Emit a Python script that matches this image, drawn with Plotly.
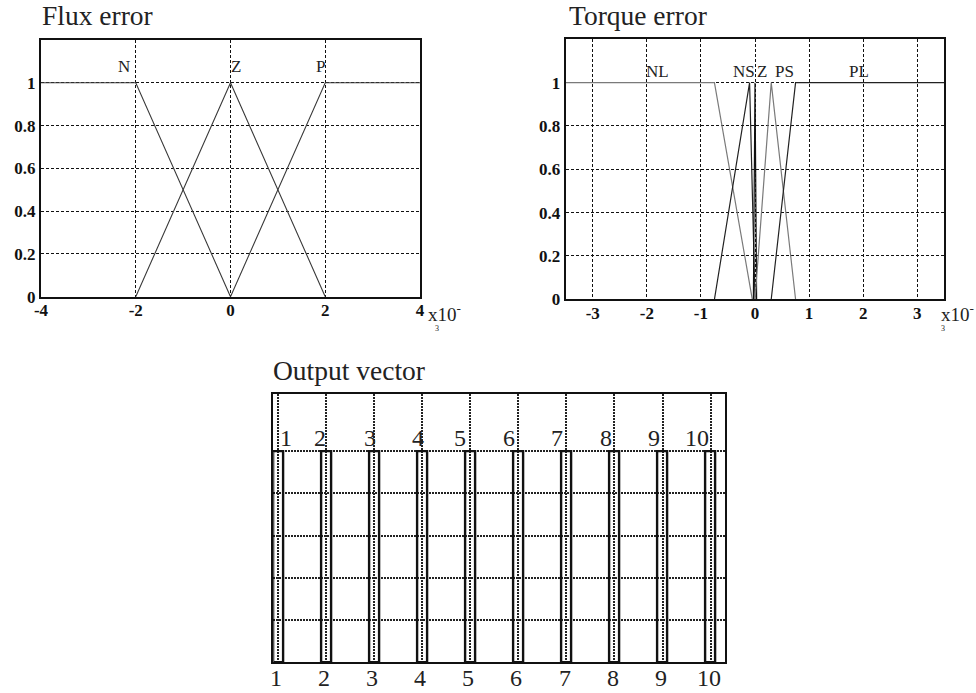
import plotly.graph_objects as go

W, H = 976, 693

# ---- Flux error membership functions (x in units of 1e-3) ----
flux_N_x = [-4, -2, 0]
flux_N_mu = [1, 1, 0]
flux_Z_x = [-2, 0, 2]
flux_Z_mu = [0, 1, 0]
flux_P_x = [0, 2, 4]
flux_P_mu = [0, 1, 1]
flux_names = ["N", "Z", "P"]
flux_name_x = [-2.25, 0.12, 1.91]
flux_xticks = [-4, -2, 0, 2, 4]
flux_xticktext = ["-4", "-2", "0", "2", "4"]

# ---- Torque error membership functions (x in units of 1e-3) ----
torque_NL_x = [-3.5, -0.75, -0.05]
torque_NL_mu = [1, 1, 0]
torque_NS_x = [-0.75, -0.1, 0]
torque_NS_mu = [0, 1, 0]
torque_Z_x = [-0.03, 0, 0.03]
torque_Z_mu = [0, 1, 0]
torque_PS_x = [0, 0.3, 0.75]
torque_PS_mu = [0, 1, 0]
torque_PL_x = [0.3, 0.75, 3.5]
torque_PL_mu = [0, 1, 1]
torque_names = ["NL", "NS", "Z", "PS", "PL"]
torque_name_x = [-1.8, -0.2, 0.13, 0.54, 1.92]
torque_xticks = [-3, -2, -1, 0, 1, 2, 3]
torque_xticktext = ["-3", "-2", "-1", "0", "1", "2", "3"]

# ---- Output voltage vector singletons ----
output_vectors = [1, 2, 3, 4, 5, 6, 7, 8, 9, 10]
output_mu = [1, 1, 1, 1, 1, 1, 1, 1, 1, 1]
output_name_x = [1.16, 1.88, 2.91, 3.91, 4.78, 5.8, 6.8, 7.83, 8.83, 9.72]

mu_ticks = [0, 0.2, 0.4, 0.6, 0.8, 1]
mu_ticktext = ["0", "0.2", "0.4", "0.6", "0.8", "1"]

SERIF = "Liberation Serif"


def px_x(p):
    return p / W


def px_y(p):
    return 1 - p / H


fig = go.Figure()

# flux error curves
for xs, ys in [(flux_N_x, flux_N_mu), (flux_Z_x, flux_Z_mu), (flux_P_x, flux_P_mu)]:
    fig.add_trace(go.Scatter(x=xs, y=ys, mode="lines",
                             line=dict(color="#3a3a3a", width=1.1),
                             xaxis="x", yaxis="y", showlegend=False, hoverinfo="skip"))

# torque error curves
torque_sets = [
    (torque_NL_x, torque_NL_mu, "#7a7a7a"),
    (torque_NS_x, torque_NS_mu, "#222222"),
    (torque_Z_x, torque_Z_mu, "#111111"),
    (torque_PS_x, torque_PS_mu, "#7a7a7a"),
    (torque_PL_x, torque_PL_mu, "#222222"),
]
for xs, ys, c in torque_sets:
    fig.add_trace(go.Scatter(x=xs, y=ys, mode="lines",
                             line=dict(color=c, width=1.2),
                             xaxis="x2", yaxis="y2", showlegend=False, hoverinfo="skip"))

# output vector singletons
fig.add_trace(go.Bar(x=output_vectors, y=output_mu, width=0.2,
                     marker=dict(color="rgba(0,0,0,0)", line=dict(color="#111111", width=2.4)),
                     xaxis="x3", yaxis="y3", showlegend=False, hoverinfo="skip"))

grid = dict(showgrid=True, gridcolor="#111111", gridwidth=1, griddash="3px,2px",
            zeroline=False, showline=True, linecolor="#111111", linewidth=2,
            mirror=True, ticks="", automargin=False)
tickfont_b = dict(family=SERIF, size=17, color="#111111", weight="bold")
dotgrid = {**grid, "griddash": "2px,1px", "gridwidth": 2, "gridcolor": "#222222"}

fig.update_layout(
    width=W, height=H,
    margin=dict(l=0, r=0, t=0, b=0),
    paper_bgcolor="white", plot_bgcolor="white",
    bargap=0,
    xaxis=dict(domain=[px_x(41), px_x(420)], range=[-4, 4], tickvals=flux_xticks,
               ticktext=flux_xticktext, tickfont=tickfont_b, anchor="y",
               ticklabelstandoff=-3, **grid),
    yaxis=dict(domain=[px_y(296.7), px_y(40)], range=[0, 1.2], tickvals=mu_ticks,
               ticktext=mu_ticktext, tickfont=tickfont_b, anchor="x", **grid),
    xaxis2=dict(domain=[px_x(565.7), px_x(944.3)], range=[-3.5, 3.5], tickvals=torque_xticks,
                ticktext=torque_xticktext, tickfont=tickfont_b, anchor="y2",
                ticklabelstandoff=-3, **grid),
    yaxis2=dict(domain=[px_y(299.3), px_y(39.3)], range=[0, 1.2], tickvals=mu_ticks,
                ticktext=mu_ticktext, tickfont=tickfont_b, anchor="x2", **grid),
    xaxis3=dict(domain=[px_x(273.3), px_x(725)], range=[0.9, 10.3], tickvals=output_vectors,
                showticklabels=False, anchor="y3", **dotgrid),
    yaxis3=dict(domain=[px_y(662.3), px_y(394.3)], range=[0, 1.27], tickvals=mu_ticks,
                showticklabels=False, anchor="x3", **dotgrid),
)

ann = []
# panel titles
for text, xl, yc in [("Flux error", 40, 15), ("Torque error", 567, 15), ("Output vector", 271, 370)]:
    ann.append(dict(text=text, x=px_x(xl), y=px_y(yc), xref="paper", yref="paper",
                    xanchor="left", yanchor="middle", showarrow=False,
                    font=dict(family=SERIF, size=27.5, color="#222222")))

# membership function names
for name, xv in zip(flux_names, flux_name_x):
    ann.append(dict(text=name, x=xv, y=1.075, xref="x", yref="y", showarrow=False,
                    xanchor="center", yanchor="middle",
                    font=dict(family=SERIF, size=17, color="#222222")))
for name, xv in zip(torque_names, torque_name_x):
    ann.append(dict(text=name, x=xv, y=1.05, xref="x2", yref="y2", showarrow=False,
                    xanchor="center", yanchor="middle",
                    font=dict(family=SERIF, size=17, color="#222222")))
for v, xv in zip(output_vectors, output_name_x):
    ann.append(dict(text=str(v), x=xv, y=1.065, xref="x3", yref="y3", showarrow=False,
                    xanchor="center", yanchor="middle",
                    font=dict(family=SERIF, size=24, color="#222222")))
# output vector numbering under the axis
for v in output_vectors:
    ann.append(dict(text=str(v), x=v - 0.04, y=px_y(678), xref="x3", yref="paper",
                    showarrow=False, xanchor="center", yanchor="middle",
                    font=dict(family=SERIF, size=24, color="#222222")))

# x10^-3 scale markers
for xl, x3 in [(426, 437), (939, 943)]:
    ann.append(dict(text="x10<sup>-</sup>", x=px_x(xl), y=px_y(313), xref="paper", yref="paper",
                    xanchor="left", yanchor="middle", showarrow=False,
                    font=dict(family=SERIF, size=19, color="#222222")))
    ann.append(dict(text="3", x=px_x(x3), y=px_y(329), xref="paper", yref="paper",
                    xanchor="center", yanchor="middle", showarrow=False,
                    font=dict(family=SERIF, size=8, color="#222222")))

fig.update_layout(annotations=ann)

fig.write_html("out.html")
